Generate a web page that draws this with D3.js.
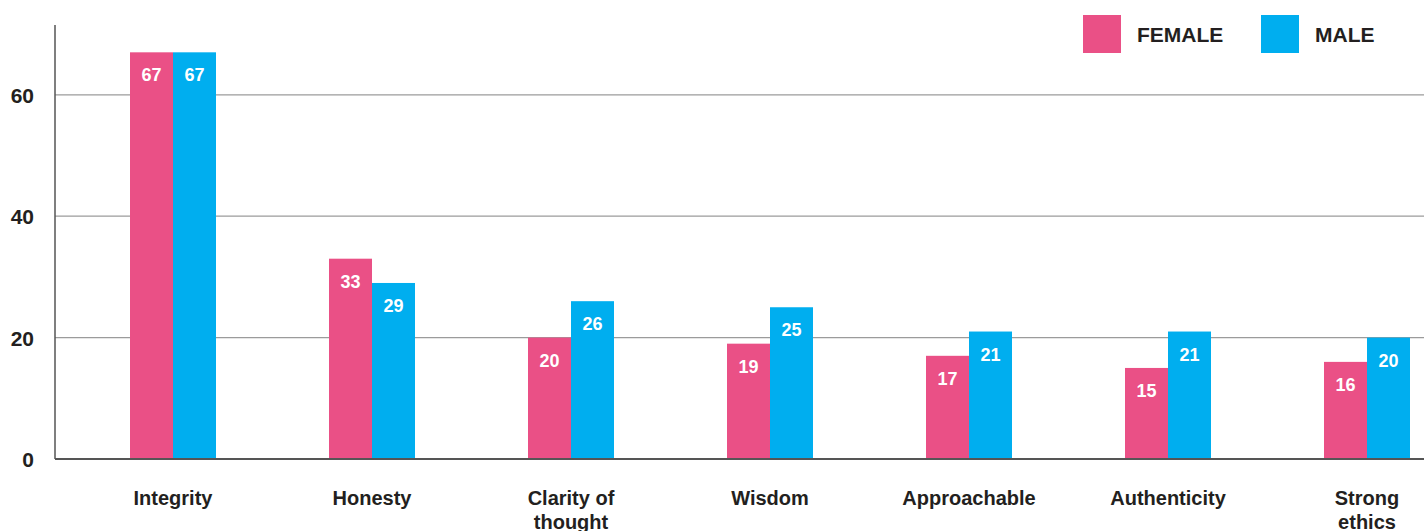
<!DOCTYPE html>
<html>
<head>
<meta charset="utf-8">
<script src="https://cdn.jsdelivr.net/npm/d3@7"></script>
<style>
  body { margin: 0; background: #fff; }
  svg text { font-family: "Liberation Sans", Arial, sans-serif; font-weight: bold; }
</style>
</head>
<body>
<svg class="chart" width="1424" height="531"></svg>
<script>
var categories = ["Integrity", "Honesty", "Clarity of thought", "Wisdom", "Approachable", "Authenticity", "Strong ethics"];
var labelLines = [["Integrity"], ["Honesty"], ["Clarity of", "thought"], ["Wisdom"], ["Approachable"], ["Authenticity"], ["Strong", "ethics"]];
var series = ["FEMALE", "MALE"];
var female = [67, 33, 20, 19, 17, 15, 16];
var male = [67, 29, 26, 25, 21, 21, 20];
var yTicks = [0, 20, 40, 60];
var yMax = 71.5;

var svg = d3.select(".chart"),
    width = +svg.attr("width"),
    height = +svg.attr("height");

var color = d3.scaleOrdinal().domain(series).range(["#ea5086", "#00aeef"]);

var y = d3.scaleLinear().domain([0, yMax]).range([459, 25]);

// category centres
var x = d3.scalePoint().domain(categories).range([173, 1367]);
// position of each series within a group
var xs = d3.scaleBand().domain(series).range([-43, 43]);

var rows = categories.map((c, i) => ({ cat: c, lines: labelLines[i], FEMALE: female[i], MALE: male[i] }));

// gridlines
svg.append("g")
    .selectAll("line")
    .data(yTicks.filter(d => d > 0))
    .enter()
    .append("line")
    .attr("x1", 55)
    .attr("x2", width)
    .attr("y1", d => y(d))
    .attr("y2", d => y(d))
    .attr("stroke", "#9b9b9b")
    .attr("stroke-width", 1.3);

// bars
var groups = svg.append("g")
    .selectAll("g")
    .data(rows)
    .enter()
    .append("g")
    .attr("transform", d => "translate(" + x(d.cat) + ",0)");

groups.selectAll("rect")
    .data(d => series.map(s => ({ s: s, v: d[s] })))
    .enter()
    .append("rect")
    .attr("x", d => xs(d.s))
    .attr("width", xs.bandwidth())
    .attr("y", d => y(d.v))
    .attr("height", d => y(0) - y(d.v))
    .attr("fill", d => color(d.s));

groups.selectAll("text.val")
    .data(d => series.map(s => ({ s: s, v: d[s] })))
    .enter()
    .append("text")
    .attr("class", "val")
    .attr("x", d => xs(d.s) + xs.bandwidth() / 2)
    .attr("y", d => y(d.v) + 29)
    .attr("text-anchor", "middle")
    .attr("fill", "#fff")
    .style("font-size", "18px")
    .text(d => d.v);

// axes lines
svg.append("line")
    .attr("x1", 55).attr("x2", 55)
    .attr("y1", y(yMax)).attr("y2", y(0))
    .attr("stroke", "#555").attr("stroke-width", 1.5);
svg.append("line")
    .attr("x1", 55).attr("x2", width)
    .attr("y1", y(0)).attr("y2", y(0))
    .attr("stroke", "#555").attr("stroke-width", 1.8);

// y tick labels
svg.append("g")
    .selectAll("text")
    .data(yTicks)
    .enter()
    .append("text")
    .attr("x", 34)
    .attr("y", d => y(d) + 8)
    .attr("text-anchor", "end")
    .attr("fill", "#231f20")
    .style("font-size", "21px")
    .text(d => d);

// category labels
var catLabels = svg.append("g")
    .selectAll("text")
    .data(rows)
    .enter()
    .append("text")
    .attr("x", d => x(d.cat))
    .attr("y", 505)
    .attr("text-anchor", "middle")
    .attr("fill", "#231f20")
    .style("font-size", "20px");

catLabels.selectAll("tspan")
    .data(d => d.lines)
    .enter()
    .append("tspan")
    .attr("x", function () { return d3.select(this.parentNode).attr("x"); })
    .attr("dy", (d, i) => i === 0 ? 0 : 24)
    .text(d => d);

// legend
var legend = svg.append("g")
    .selectAll("g")
    .data(series)
    .enter()
    .append("g")
    .attr("transform", (d, i) => "translate(" + (1083 + i * 178) + ",15)");

legend.append("rect")
    .attr("width", 38)
    .attr("height", 38)
    .attr("fill", d => color(d));

legend.append("text")
    .attr("x", 54)
    .attr("y", 27)
    .attr("fill", "#231f20")
    .style("font-size", "21px")
    .text(d => d);
</script>
</body>
</html>
